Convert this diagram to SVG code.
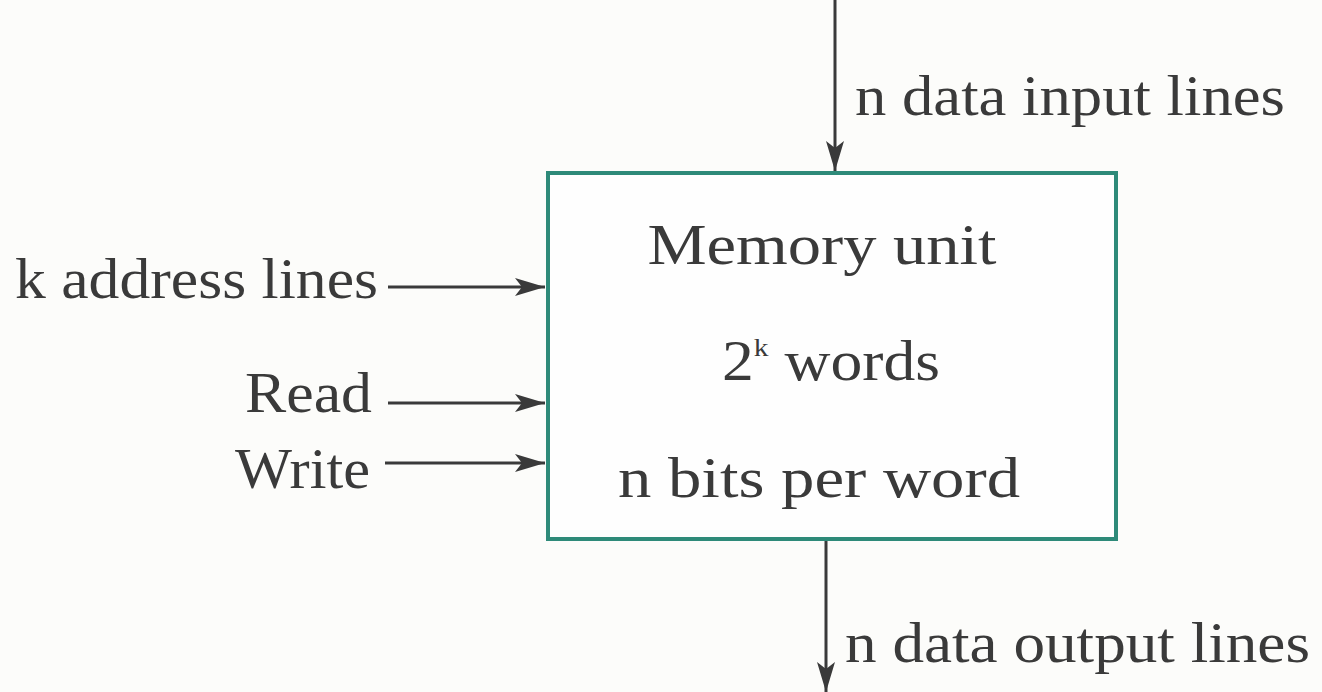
<svg xmlns="http://www.w3.org/2000/svg" width="1322" height="692" viewBox="0 0 1322 692">
<defs>
<style>
text{font-family:"Liberation Serif","Times New Roman",serif;font-size:56px;fill:#3a3a3a}
.line{stroke:#3a3a3a;stroke-width:3;fill:none}
.box{fill:#fefefe;stroke:#2e8a79;stroke-width:4}
</style>
<marker id="ahL" viewBox="0 0 30 18" refX="30" refY="9" markerWidth="30" markerHeight="18" markerUnits="userSpaceOnUse" orient="auto">
<path d="M0,0 L30,9 L0,18 L7,9 Z" fill="#3a3a3a"/>
</marker>
</defs>
<rect width="1322" height="692" fill="#fcfcfa"/>
<g id="memory-unit">
<rect class="box" x="548" y="173" width="568" height="366"/>
<text x="822" y="264" text-anchor="middle" textLength="349" lengthAdjust="spacingAndGlyphs">Memory unit</text>
<text x="722" y="380" textLength="218" lengthAdjust="spacingAndGlyphs">2<tspan font-size="26" dy="-24">k</tspan><tspan dy="24"> words</tspan></text>
<text x="819" y="497" text-anchor="middle" textLength="402" lengthAdjust="spacingAndGlyphs">n bits per word</text>
</g>
<g id="label-input"><text x="855" y="115" textLength="430" lengthAdjust="spacingAndGlyphs">n data input lines</text></g>
<g id="label-address"><text x="15" y="298" textLength="363" lengthAdjust="spacingAndGlyphs">k address lines</text></g>
<g id="label-read"><text x="245" y="412" textLength="127" lengthAdjust="spacingAndGlyphs">Read</text></g>
<g id="label-write"><text x="235" y="488" textLength="135" lengthAdjust="spacingAndGlyphs">Write</text></g>
<g id="label-output"><text x="845" y="662" textLength="465" lengthAdjust="spacingAndGlyphs">n data output lines</text></g>
<g id="connectors">
<line class="line" x1="835" y1="0" x2="835" y2="171" marker-end="url(#ahL)"/>
<line class="line" x1="388" y1="287" x2="545" y2="287" marker-end="url(#ahL)"/>
<line class="line" x1="388" y1="403" x2="545" y2="403" marker-end="url(#ahL)"/>
<line class="line" x1="385" y1="463" x2="545" y2="463" marker-end="url(#ahL)"/>
<line class="line" x1="826" y1="541" x2="826" y2="692" marker-end="url(#ahL)"/>
</g>
</svg>
